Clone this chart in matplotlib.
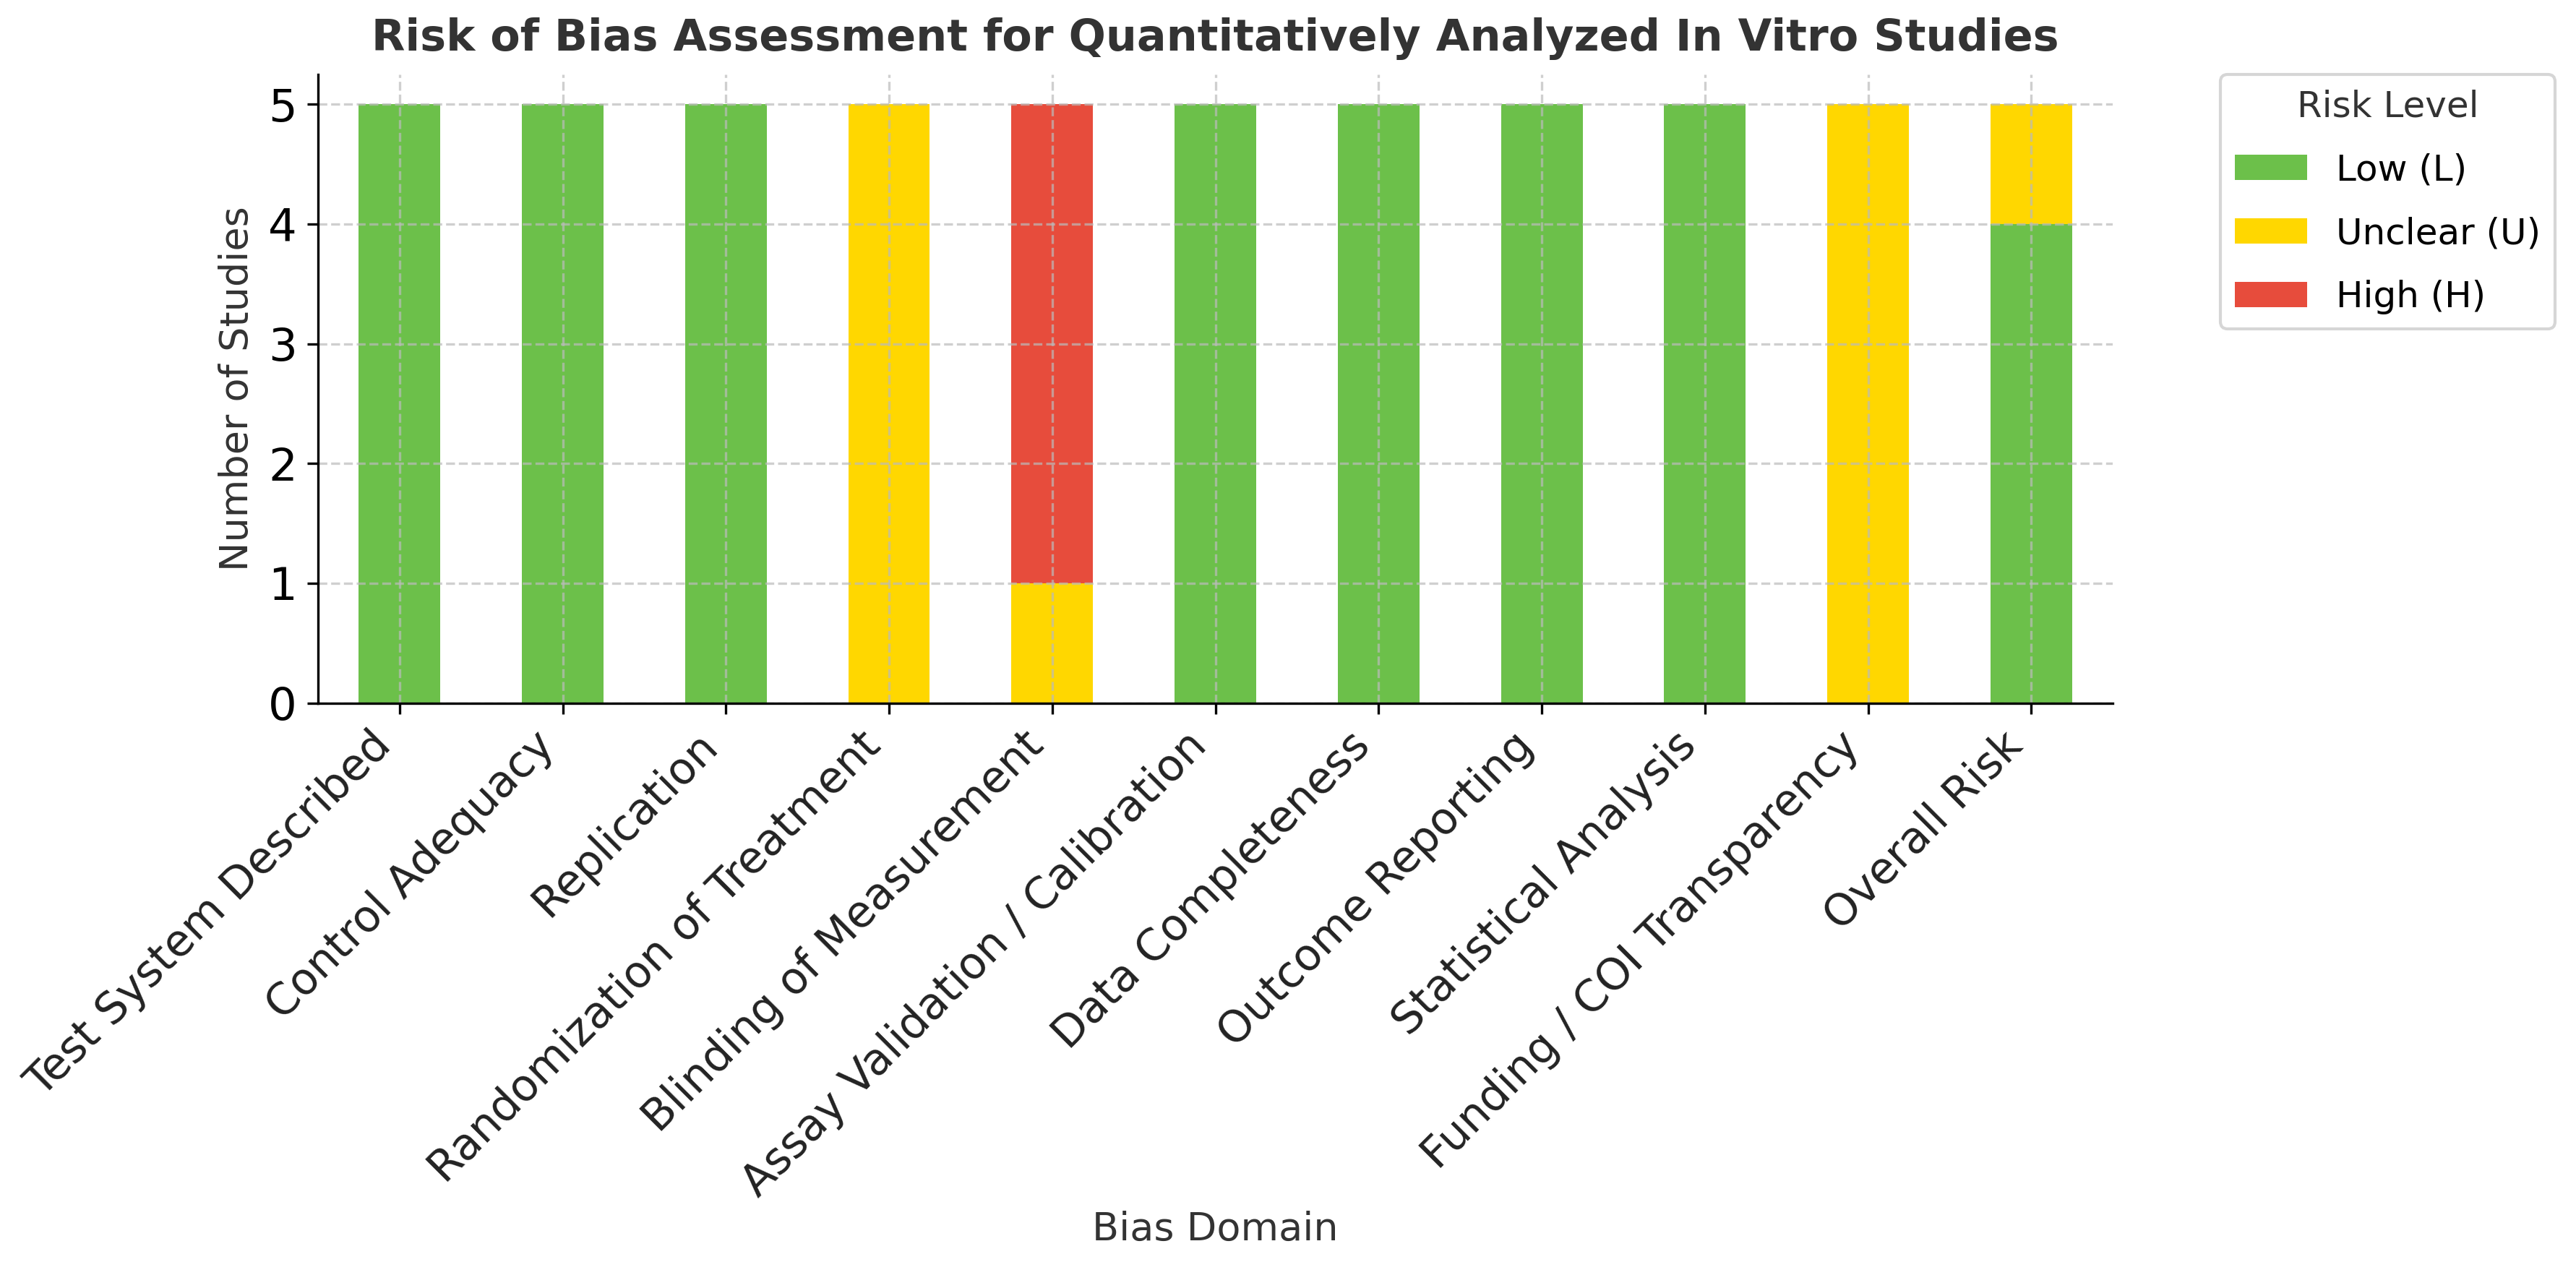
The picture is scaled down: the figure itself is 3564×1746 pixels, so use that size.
import matplotlib
matplotlib.use("Agg")
import matplotlib.pyplot as plt
import pandas as pd

# data
domains = ["Test System Described", "Control Adequacy", "Replication",
           "Randomization of Treatment", "Blinding of Measurement",
           "Assay Validation / Calibration", "Data Completeness",
           "Outcome Reporting", "Statistical Analysis",
           "Funding / COI Transparency", "Overall Risk"]
low = [5, 5, 5, 0, 0, 5, 5, 5, 5, 0, 4]
unclear = [0, 0, 0, 5, 1, 0, 0, 0, 0, 5, 1]
high = [0, 0, 0, 0, 4, 0, 0, 0, 0, 0, 0]

colors = ["#6cc04a", "#ffd700", "#e74c3c"]

df = pd.DataFrame({"Low (L)": low, "Unclear (U)": unclear, "High (H)": high},
                  index=domains)

fig, ax = plt.subplots(figsize=(11.883, 5.82), dpi=300)
fig.subplots_adjust(left=0.1234, right=0.82, bottom=0.443, top=0.941)

df.plot(kind="bar", stacked=True, color=colors, ax=ax, width=0.5, rot=45)

ax.set_title("Risk of Bias Assessment for Quantitatively Analyzed In Vitro Studies",
             fontsize=14.5, fontweight="bold", color="#333333", pad=8)
ax.set_xlabel("Bias Domain", fontsize=13, color="#333333", labelpad=2)
ax.set_ylabel("Number of Studies", fontsize=13, color="#333333")
ax.set_xticklabels(domains, rotation=45, ha="right", fontsize=14.5, color="#222222")
ax.tick_params(axis="y", labelsize=15)
ax.set_yticks(range(0, 6))

ax.grid(True, linestyle="--", color="#bbbbbb", alpha=0.7)
ax.spines["top"].set_visible(False)
ax.spines["right"].set_visible(False)

leg = ax.legend(title="Risk Level", bbox_to_anchor=(1.06, 1.0), loc="upper left",
                fontsize=12, title_fontsize=12, labelspacing=0.8,
                borderaxespad=0)
leg.get_title().set_color("#333333")

plt.savefig("out.png", dpi=300)
